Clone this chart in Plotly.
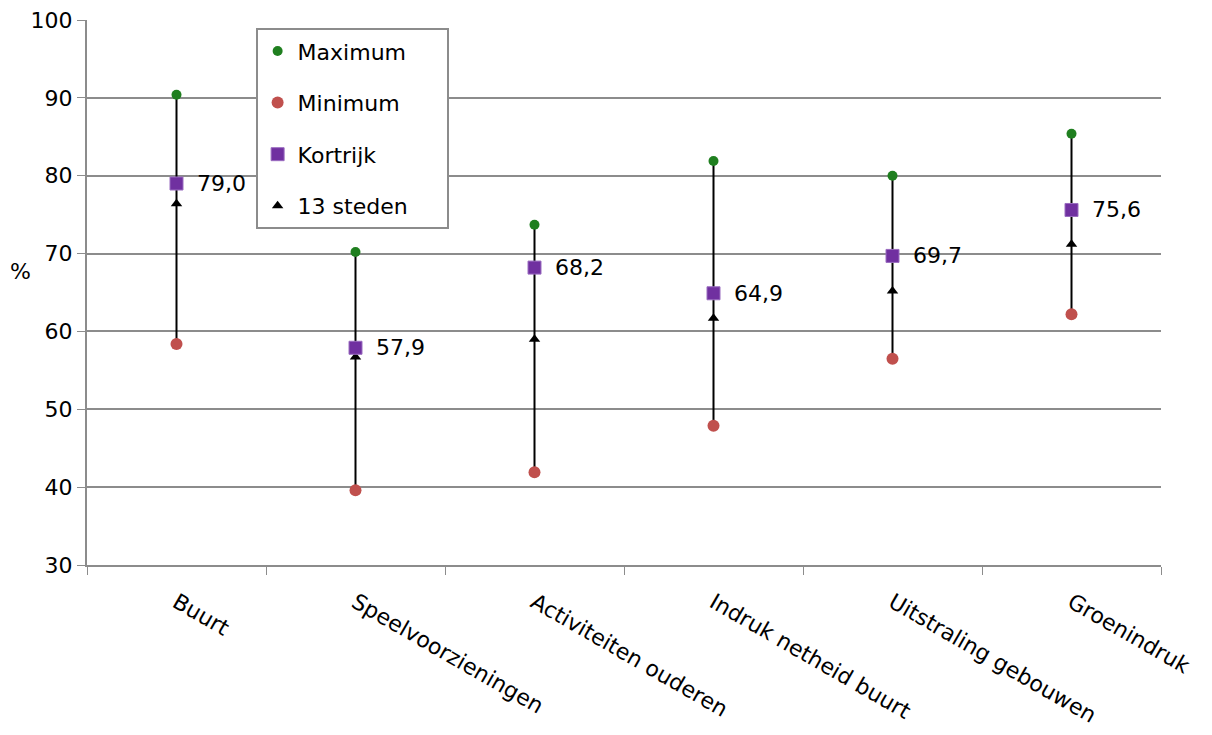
import plotly.graph_objects as go

categories = ["Buurt", "Speelvoorzieningen", "Activiteiten ouderen",
              "Indruk netheid buurt", "Uitstraling gebouwen", "Groenindruk"]
maximum = [90.4, 70.2, 73.7, 81.9, 80.0, 85.4]
minimum = [58.4, 39.6, 41.9, 47.9, 56.5, 62.2]
kortrijk = [79.0, 57.9, 68.2, 64.9, 69.7, 75.6]
steden13 = [76.4, 56.7, 59.0, 61.7, 65.2, 71.2]
y_ticks = [30, 40, 50, 60, 70, 80, 90, 100]

FONT = "DejaVu Sans"
FS = 22
NB = "\u00a0"

fig = go.Figure()

# vertical range lines min -> max
lx, ly = [], []
for c, lo, hi in zip(categories, minimum, maximum):
    lx += [c, c, None]
    ly += [lo, hi, None]
fig.add_trace(go.Scatter(x=lx, y=ly, mode="lines", line=dict(color="black", width=2),
                         showlegend=False, hoverinfo="skip"))

fig.add_trace(go.Scatter(x=categories, y=steden13, mode="markers", name="13 steden",
                         legendgroup="d", legendrank=4,
                         marker=dict(symbol="triangle-up", size=10, color="black")))
fig.add_trace(go.Scatter(x=categories, y=kortrijk, mode="markers", name="Kortrijk",
                         legendgroup="c", legendrank=3,
                         marker=dict(symbol="square", size=13, color="#7030A0",
                                     line=dict(color="#9A6CC0", width=1))))
fig.add_trace(go.Scatter(x=categories, y=maximum, mode="markers", name="Maximum" + NB * 5,
                         legendgroup="a", legendrank=1,
                         marker=dict(symbol="circle", size=10, color="#1F7F1F")))
fig.add_trace(go.Scatter(x=categories, y=minimum, mode="markers", name="Minimum",
                         legendgroup="b", legendrank=2,
                         marker=dict(symbol="circle", size=12, color="#C0504D")))

for c, v in zip(categories, kortrijk):
    fig.add_annotation(x=c, y=v, text=f"{v:.1f}".replace(".", ","), showarrow=False,
                       xanchor="left", yanchor="middle", xshift=18,
                       font=dict(family=FONT, size=FS, color="black"))

fig.add_annotation(x=0, y=70, xref="paper", yref="y", text="%", showarrow=False,
                   xanchor="right", yanchor="middle", xshift=-54, yshift=-18,
                   font=dict(family=FONT, size=FS, color="black"))

fig.update_layout(
    width=1212, height=735,
    margin=dict(l=79, r=59, t=12, b=178),
    paper_bgcolor="white", plot_bgcolor="white",
    font=dict(family=FONT, size=FS, color="black"),
    showlegend=True,
    legend=dict(x=0.157, y=0.985, xanchor="left", yanchor="top",
                bordercolor="#8C8C8C", borderwidth=2, bgcolor="white",
                traceorder="grouped", tracegroupgap=20,
                font=dict(family=FONT, size=FS, color="black")),
    xaxis=dict(type="category", categoryorder="array", categoryarray=categories,
               range=[-0.5, 5.5], showgrid=False, showline=True, linecolor="#8C8C8C",
               linewidth=2, ticks="outside", tickson="boundaries", ticklen=8,
               tickcolor="#8C8C8C", tickwidth=1, tickangle=30, ticklabelstandoff=14,
               ticklabeloverflow="allow", automargin=False,
               tickfont=dict(family=FONT, size=FS, color="black")),
    yaxis=dict(range=[30, 100], tickvals=y_ticks, showgrid=True, gridcolor="#8C8C8C",
               gridwidth=1.5, showline=True, linecolor="#8C8C8C", linewidth=2,
               ticks="outside", ticklen=8, tickcolor="#8C8C8C", zeroline=False,
               ticklabeloverflow="allow", automargin=False,
               tickfont=dict(family=FONT, size=FS, color="black")),
)

fig.write_html("out.html")
